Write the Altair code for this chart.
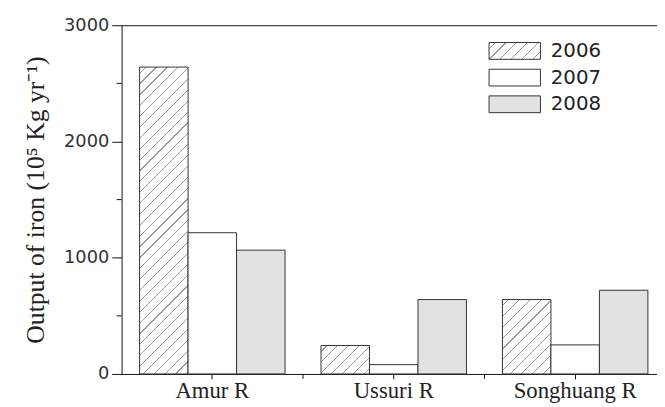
import json
import altair as alt
import pandas as pd

# ---- data ----
rivers = ["Amur R", "Ussuri R", "Songhuang R"]
years = ["2006", "2007", "2008"]
out_2006 = [2640, 245, 640]
out_2007 = [1215, 80, 250]
out_2008 = [1065, 640, 720]
y_ticks = [0, 1000, 2000, 3000]
y_minor = [500, 1500, 2500]
boundaries = ["Ussuri R", "Songhuang R"]

rows = []
for i, r in enumerate(rivers):
    for y, vals in zip(years, [out_2006, out_2007, out_2008]):
        rows.append({"river": r, "year": y, "value": vals[i]})
df = pd.DataFrame(rows)

# ---- layout ----
W, H = 542, 353          # visible plot box (right part cropped like the reference)
XRANGE = 551             # full band range (extends past the right edge)
YMAX = 3000
OFF_PAD = 0.371
bar_w = (XRANGE / 3) / (3 + 2 * OFF_PAD)


def hatch(w, h, period=11.0, lw=1.2, bg="#ffffff", fg="#9a9a9a"):
    L = w + h
    r = h / w
    k = (1 + r) / (1 + r * r)
    stops = [{"offset": 0, "color": bg}]
    pos = period / 2
    while pos + lw < L:
        a = round(pos / L, 5)
        b = round((pos + lw) / L, 5)
        stops += [{"offset": a, "color": bg}, {"offset": a, "color": fg},
                  {"offset": b, "color": fg}, {"offset": b, "color": bg}]
        pos += period
    stops.append({"offset": 1, "color": bg})
    return {"gradient": "linear", "x1": 0, "y1": 0,
            "x2": round(k, 5), "y2": round(k * r, 5), "stops": stops}


conds = []
for r, v in zip(rivers, out_2006):
    conds.append({"test": f"datum.river === '{r}' && datum.year === '2006'",
                  "value": hatch(bar_w, v * H / YMAX)})

legend_grad = hatch(52, 17)

x_axis = alt.Axis(title=None, labelFont="Liberation Serif", labelFontSize=23,
                  labelColor="#222", labelPadding=1, tickSize=5, tickColor="#111",
                  domainColor="#111", labelAngle=0, grid=False)
y_axis = alt.Axis(title="Output of iron (10⁵ Kg yr⁻¹)", values=y_ticks, format="d",
                  labelFont="DejaVu Sans", labelFontSize=18, labelColor="#333",
                  tickSize=10, labelPadding=3, tickColor="#111", domainColor="#111",
                  grid=False, titleFont="Liberation Serif", titleFontSize=26,
                  titleFontWeight="normal", titleColor="#222", titleX=-87,
                  titleY=H / 2, titleAngle=270, titleAlign="center",
                  titleBaseline="middle")
top_axis = alt.Axis(orient="top", labels=False, ticks=False, title=None,
                    domain=True, domainColor="#111", grid=False)

bars = alt.Chart(df).mark_bar(stroke="#333", strokeWidth=1).encode(
    x=alt.X("river:N", scale=alt.Scale(domain=rivers, range=[0, XRANGE],
                                       paddingInner=0, paddingOuter=0), axis=x_axis),
    xOffset=alt.XOffset("year:N", scale=alt.Scale(domain=years, paddingInner=0,
                                                  paddingOuter=OFF_PAD)),
    y=alt.Y("value:Q", scale=alt.Scale(domain=[0, YMAX], nice=False), axis=y_axis),
    fill=alt.Fill(
        "year:N",
        condition=conds,
        scale=alt.Scale(domain=years,
                        range=[alt.ExprRef(json.dumps(legend_grad)), "#ffffff", "#e2e2e2"]),
        legend=alt.Legend(title=None, orient="none", legendX=388, legendY=16,
                          symbolType="M-3.06,-1H3.06V1H-3.06Z", symbolSize=289,
                          symbolStrokeColor="#333", symbolStrokeWidth=1,
                          labelFont="DejaVu Sans", labelFontSize=20, labelColor="#222",
                          labelOffset=26.5, rowPadding=5, padding=0),
    ),
)

xminor = alt.Chart(pd.DataFrame({"river": boundaries})).mark_rule(
    color="#111", strokeWidth=1).encode(
    x=alt.X("river:N", bandPosition=0, axis=top_axis),
    y=alt.value(H),
    y2=alt.value(H + 5),
)

yminor = alt.Chart(pd.DataFrame({"value": y_minor})).mark_rule(
    color="#111", strokeWidth=1).encode(
    y=alt.Y("value:Q", axis=y_axis),
    x=alt.value(-5),
    x2=alt.value(0),
)

chart = alt.layer(bars, xminor, yminor).resolve_axis(x="independent").properties(
    width=W, height=H,
    autosize=alt.AutoSizeParams(type="none"),
    padding={"left": 115, "top": 15, "right": 0, "bottom": 31},
    background="white",
).configure_view(stroke=None)

chart.save("out.html", embed_options={"renderer": "svg", "actions": False})
